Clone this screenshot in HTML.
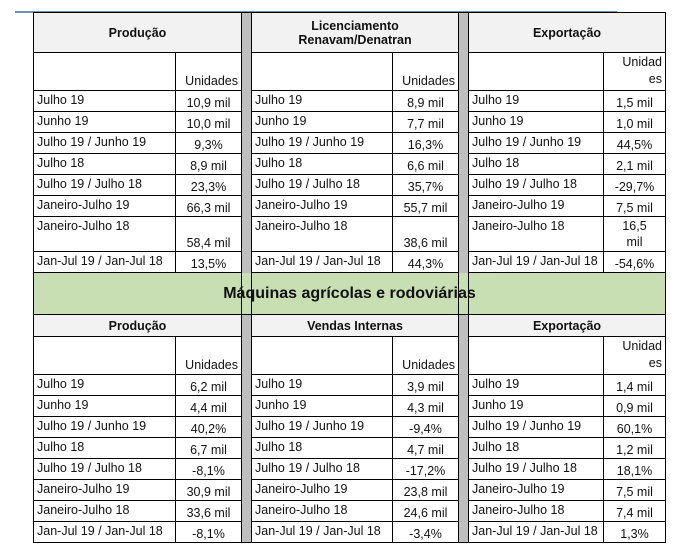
<!DOCTYPE html>
<html><head><meta charset="utf-8"><style>
body{margin:0;background:#fff;width:694px;height:555px;position:relative;overflow:hidden;font-family:"Liberation Sans",sans-serif;}
.bl{position:absolute;left:15px;top:11px;width:602px;height:2px;background:#6f8fb8;}
table{position:absolute;left:33px;top:12px;border-collapse:collapse;table-layout:fixed;font-size:12.5px;color:#111;}
td{border:1.5px solid #000;padding:0 3px;line-height:14px;overflow:hidden;white-space:nowrap;}
td.l{vertical-align:top;padding-top:2px;}
td.v{vertical-align:bottom;text-align:center;padding-bottom:1px;}
td.u{vertical-align:bottom;text-align:right;padding-bottom:2px;}
td.g{background:#bfbfbf;padding:0;}
td.h{background:#f2f2f2;font-weight:bold;text-align:center;vertical-align:middle;}
td.ban{background:#c8dfb4;font-weight:bold;font-size:16px;text-align:center;}
tr.r td{height:18px;}
</style></head><body>
<div class="bl"></div>
<table>
<colgroup><col style="width:142px"><col style="width:66px"><col style="width:10px"><col style="width:141px"><col style="width:66px"><col style="width:10px"><col style="width:135px"><col style="width:62px"></colgroup>
<tr style="height:40px"><td class="h" colspan="2">Produção</td><td class="g" rowspan="11"></td><td class="h" colspan="2">Licenciamento<br>Renavam/Denatran</td><td class="g" rowspan="11"></td><td class="h" colspan="2">Exportação</td></tr>
<tr style="height:38px"><td></td><td class="u">Unidades</td><td></td><td class="u">Unidades</td><td></td><td class="u" style="line-height:17px">Unidad<br>es</td></tr>
<tr class="r"><td class="l">Julho 19</td><td class="v">10,9 mil</td><td class="l">Julho 19</td><td class="v">8,9 mil</td><td class="l">Julho 19</td><td class="v">1,5 mil</td></tr>
<tr class="r"><td class="l">Junho 19</td><td class="v">10,0 mil</td><td class="l">Junho 19</td><td class="v">7,7 mil</td><td class="l">Junho 19</td><td class="v">1,0 mil</td></tr>
<tr class="r"><td class="l">Julho 19 / Junho 19</td><td class="v">9,3%</td><td class="l">Julho 19 / Junho 19</td><td class="v">16,3%</td><td class="l">Julho 19 / Junho 19</td><td class="v">44,5%</td></tr>
<tr class="r"><td class="l">Julho 18</td><td class="v">8,9 mil</td><td class="l">Julho 18</td><td class="v">6,6 mil</td><td class="l">Julho 18</td><td class="v">2,1 mil</td></tr>
<tr class="r"><td class="l">Julho 19 / Julho 18</td><td class="v">23,3%</td><td class="l">Julho 19 / Julho 18</td><td class="v">35,7%</td><td class="l">Julho 19 / Julho 18</td><td class="v">-29,7%</td></tr>
<tr class="r"><td class="l">Janeiro-Julho 19</td><td class="v">66,3 mil</td><td class="l">Janeiro-Julho 19</td><td class="v">55,7 mil</td><td class="l">Janeiro-Julho 19</td><td class="v">7,5 mil</td></tr>
<tr style="height:35px"><td class="l">Janeiro-Julho 18</td><td class="v">58,4 mil</td><td class="l">Janeiro-Julho 18</td><td class="v">38,6 mil</td><td class="l">Janeiro-Julho 18</td><td class="v" style="line-height:16px">16,5<br>mil</td></tr>
<tr class="r"><td class="l">Jan-Jul 19 / Jan-Jul 18</td><td class="v">13,5%</td><td class="l">Jan-Jul 19 / Jan-Jul 18</td><td class="v">44,3%</td><td class="l">Jan-Jul 19 / Jan-Jul 18</td><td class="v">-54,6%</td></tr>
<tr style="height:42px"><td class="ban" colspan="8">Máquinas agrícolas e rodoviárias</td></tr>
<tr style="height:22px"><td class="h" colspan="2">Produção</td><td class="g" rowspan="10"></td><td class="h" colspan="2">Vendas Internas</td><td class="g" rowspan="10"></td><td class="h" colspan="2">Exportação</td></tr>
<tr style="height:38px"><td></td><td class="u">Unidades</td><td></td><td class="u">Unidades</td><td></td><td class="u" style="line-height:17px">Unidad<br>es</td></tr>
<tr class="r"><td class="l">Julho 19</td><td class="v">6,2 mil</td><td class="l">Julho 19</td><td class="v">3,9 mil</td><td class="l">Julho 19</td><td class="v">1,4 mil</td></tr>
<tr class="r"><td class="l">Junho 19</td><td class="v">4,4 mil</td><td class="l">Junho 19</td><td class="v">4,3 mil</td><td class="l">Junho 19</td><td class="v">0,9 mil</td></tr>
<tr class="r"><td class="l">Julho 19 / Junho 19</td><td class="v">40,2%</td><td class="l">Julho 19 / Junho 19</td><td class="v">-9,4%</td><td class="l">Julho 19 / Junho 19</td><td class="v">60,1%</td></tr>
<tr class="r"><td class="l">Julho 18</td><td class="v">6,7 mil</td><td class="l">Julho 18</td><td class="v">4,7 mil</td><td class="l">Julho 18</td><td class="v">1,2 mil</td></tr>
<tr class="r"><td class="l">Julho 19 / Julho 18</td><td class="v">-8,1%</td><td class="l">Julho 19 / Julho 18</td><td class="v">-17,2%</td><td class="l">Julho 19 / Julho 18</td><td class="v">18,1%</td></tr>
<tr class="r"><td class="l">Janeiro-Julho 19</td><td class="v">30,9 mil</td><td class="l">Janeiro-Julho 19</td><td class="v">23,8 mil</td><td class="l">Janeiro-Julho 19</td><td class="v">7,5 mil</td></tr>
<tr class="r"><td class="l">Janeiro-Julho 18</td><td class="v">33,6 mil</td><td class="l">Janeiro-Julho 18</td><td class="v">24,6 mil</td><td class="l">Janeiro-Julho 18</td><td class="v">7,4 mil</td></tr>
<tr class="r"><td class="l">Jan-Jul 19 / Jan-Jul 18</td><td class="v">-8,1%</td><td class="l">Jan-Jul 19 / Jan-Jul 18</td><td class="v">-3,4%</td><td class="l">Jan-Jul 19 / Jan-Jul 18</td><td class="v">1,3%</td></tr>
</table>
</body></html>
